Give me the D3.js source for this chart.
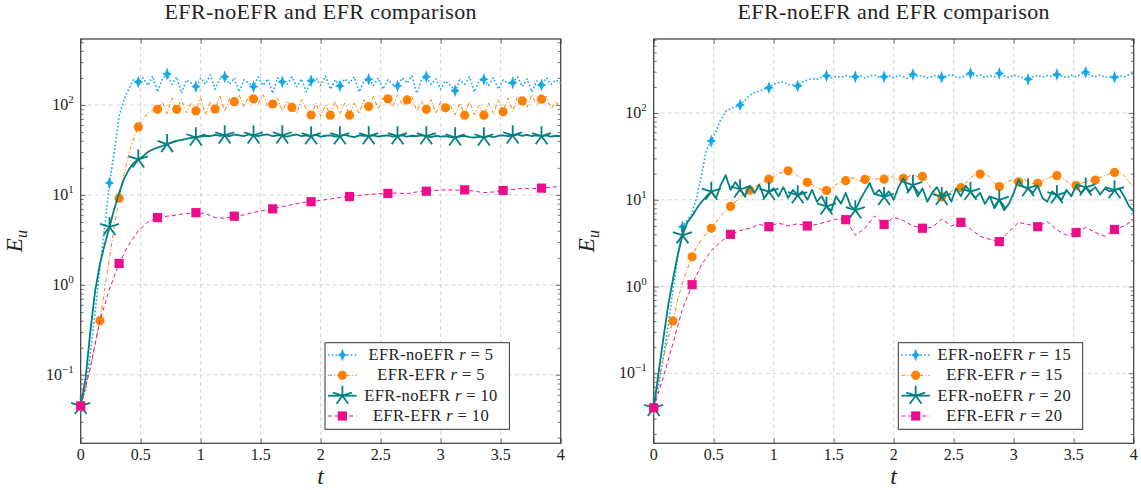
<!DOCTYPE html>
<html>
<head>
<meta charset="utf-8">
<script src="https://cdn.jsdelivr.net/npm/d3@7/dist/d3.min.js"></script>
<style>
  body { margin: 0; background: #fff; }
  text { font-family: "Liberation Serif", "DejaVu Serif", serif; fill: #222; }
</style>
</head>
<body>
<svg id="chart" width="1141" height="490"></svg>
<script>
var titles = ["EFR-noEFR and EFR comparison", "EFR-noEFR and EFR comparison"];
var xTicks = [0, 0.5, 1, 1.5, 2, 2.5, 3, 3.5, 4];
var xTickLabels = ["0", "0.5", "1", "1.5", "2", "2.5", "3", "3.5", "4"];
var yMajors = [0.1, 1, 10, 100];
var yMajorExp = ["\u22121", "0", "1", "2"];
var seriesNames = ["EFR-noEFR", "EFR-EFR", "EFR-noEFR", "EFR-EFR"];
var leftR = [5, 5, 10, 10];
var rightR = [15, 15, 20, 20];

// sampling grids of the saved time steps
var tFine = d3.range(101).map(function (i) { return +(i * 0.04).toFixed(2); });
var tCoarse = d3.range(51).map(function (i) { return +(i * 0.08).toFixed(2); });

// left panel, r = 5 and r = 10
var noEfr5 = [0.045, 0.07, 0.17, 0.5, 1.5, 4.5, 13.6, 30, 75, 114, 150, 190, 180,
  200, 165, 210, 140, 195, 221, 170, 205, 135, 190, 175, 160, 200, 170, 215, 150, 195,
  206, 170, 200, 140, 190, 175, 160, 205, 165, 195, 135, 200, 181, 170, 205, 160, 195,
  140, 186, 200, 165, 210, 150, 190, 163, 195, 175, 205, 140, 185, 193, 165, 200, 150,
  190, 170, 163, 200, 175, 210, 135, 190, 206, 170, 195, 150, 185, 165, 144, 190, 170,
  205, 140, 185, 193, 165, 200, 150, 190, 175, 177, 205, 160, 195, 140, 185, 167, 200,
  170, 190, 175];
var efr5 = [0.045, 0.07, 0.12, 0.22, 0.4, 0.9, 2.0, 4.5, 9.2, 17, 28, 42, 57,
  70, 82, 88, 89.5, 110, 80, 120, 89.5, 115, 82, 105, 86, 120, 78, 110, 90, 125, 85, 118,
  109, 130, 95, 125, 117, 105, 130, 95, 102.6, 120, 85, 110, 94, 80, 115, 90, 77.4, 105,
  75, 100, 77, 110, 80, 105, 77, 105, 80, 115, 96, 125, 90, 120, 117, 95, 130, 100, 114,
  125, 85, 110, 89.5, 115, 80, 110, 93, 100, 78, 105, 77, 110, 78, 100, 77, 105, 80, 115,
  84, 120, 85, 125, 111, 95, 130, 100, 116, 125, 90, 110, 88];
var noEfr10 = [0.045, 0.09, 0.3, 0.85, 1.7, 2.8, 4.4, 7, 10.5, 15, 19, 22.6, 24.8,
  27, 30, 32, 33.5, 35, 36.8, 38.5, 40, 41, 42, 43, 43.7, 44.5, 45.5, 45, 46.5, 45.5,
  46, 45, 47, 46, 45, 47, 46, 45, 46.5, 47, 45, 46, 46, 44.5, 46, 47, 45, 46, 45,
  46.5, 44.5, 45.5, 46, 44.5, 45, 46.5, 45, 44, 46, 45.5, 45, 46, 44.5, 45.5, 46, 44.5,
  45, 46, 44.5, 45.5, 45, 46, 45, 44, 45.5, 44.5, 45, 44, 43.7, 44.5, 45.5, 44, 43.5,
  44.5, 43.7, 45, 44, 45.5, 46, 45, 46, 47, 45.5, 46.5, 45, 46, 45, 46, 44.5, 45.5, 45];
var efr10 = [0.045, 0.12, 0.4, 0.9, 1.73, 2.8, 4.0, 5.0, 5.6, 5.8, 6.0, 6.2, 6.35,
  6.2, 5.6, 5.5, 5.8, 6.0, 6.4, 6.7, 7.0, 7.4, 7.8, 8.2, 8.4, 8.7, 9.0, 9.4, 9.6, 9.9,
  10.1, 10.3, 10.4, 10.5, 10.3, 10.8, 11, 11.2, 11.4, 11.3, 11.4, 11.0, 10.6, 10.8, 11.2,
  11.5, 11.8, 11.7, 11.9, 12.2, 12.4];

// right panel, r = 15 and r = 20
var noEfr15 = [0.04, 0.07, 0.15, 0.35, 0.9, 2.2, 4.9, 5.8, 7.0, 11, 20, 37.5, 47.6,
  62, 85, 105, 112, 118, 124, 140, 160, 172, 178, 190, 196, 215, 225, 228, 215, 210,
  205, 230, 240, 250, 245, 260, 269, 255, 265, 258, 270, 262, 262, 270, 255, 268, 275,
  258, 262, 270, 255, 272, 262, 250, 279, 265, 270, 255, 262, 275, 258, 268, 278, 262,
  255, 272, 287, 265, 275, 258, 270, 262, 287, 268, 258, 275, 262, 255, 245, 262, 272,
  258, 270, 262, 279, 268, 255, 272, 262, 280, 295, 270, 262, 275, 258, 265, 258, 270,
  262, 278, 287];
var efr15 = [0.04, 0.08, 0.15, 0.25, 0.4, 0.7, 1.1, 1.6, 2.2, 2.9, 3.5, 4.1, 4.7,
  5.5, 6.6, 7.5, 8.4, 9.5, 10.8, 11.8, 12.9, 14, 15.2, 16.3, 17.3, 18.5, 20, 21, 21.6,
  21, 19, 17, 15.9, 15, 13.8, 13, 12.8, 13.5, 15, 16, 16.6, 18, 17.5, 16.5, 17.2, 18.5,
  17, 17.8, 17.3, 19, 18, 16.5, 17.7, 18.5, 19.5, 18.5, 18.6, 16, 13, 11.5, 10.8, 11.5,
  12.5, 13.5, 13.8, 15.5, 18, 19.5, 19.8, 20.5, 18, 15.5, 14.2, 15, 16.5, 17, 16.1, 17.5,
  16, 15.5, 15.5, 16.5, 17.8, 18.5, 19.0, 18, 16.5, 15, 14.6, 15.5, 16, 16.5, 16.9, 18,
  19, 20, 20.7, 21.5, 19, 16, 14.2];
var noEfr20 = [0.04, 0.1, 0.25, 0.6, 1.2, 2.3, 3.9, 5.5, 6.5, 8, 9.5, 11, 12.4,
  10.5, 15, 19.3, 13, 16, 13.2, 11, 14.5, 12, 15, 10.5, 12.4, 13.5, 11, 14, 10.5, 13,
  11.3, 12.5, 10, 13, 9.5, 11, 8.4, 7.5, 11, 9, 12, 8.5, 7.6, 10, 12.5, 15.6, 11.5, 13,
  10.8, 12.5, 10, 14, 17.8, 12.5, 14.8, 11, 13.5, 9.5, 12, 14, 10.8, 12.5, 9.5, 13.5,
  11, 14.5, 12.4, 10.5, 12, 9, 11, 8, 10, 7.6, 9, 12, 17, 14, 13.6, 12, 14.5, 10.5, 9.5,
  12.5, 11.3, 10, 13, 11, 14.5, 12, 13.9, 12.5, 14, 11.5, 13.5, 12.5, 12.9, 13.5, 11,
  8.5, 7.3];
var efr20 = [0.04, 0.09, 0.22, 0.55, 1.05, 1.8, 2.6, 3.3, 4.0, 4.4, 4.7, 5.2, 4.9,
  5.4, 5.0, 5.3, 5.0, 5.2, 5.6, 6.0, 5.9, 3.9, 4.7, 6.5, 5.2, 6.3, 5.8, 5.0, 4.7, 4.8,
  6.0, 5.0, 5.5, 4.6, 3.8, 3.5, 3.3, 4.3, 5.5, 5.2, 4.9, 5.6, 4.5, 3.9, 4.2, 4.8, 4.2,
  3.8, 4.55, 5.0, 5.85];

var styles = [
  { color: "#14a9e6", dash: "1.6,2.2", width: 1.6, marker: "cross", every: 6 },
  { color: "#ff8000", dash: "4,2,1,2", width: 1, marker: "circle", every: 4 },
  { color: "#008080", dash: null, width: 1.8, marker: "star", every: 6 },
  { color: "#ec0c8c", dash: "4,3", width: 1, marker: "square", every: 4 }
];

var panels = [
  { left: 80.7, right: 560.7, top: 39, bottom: 443.3, yDomain: [0.0173, 542],
    legendX: 325, labelX: 22, rValues: leftR,
    series: [[tFine, noEfr5], [tFine, efr5], [tFine, noEfr10], [tCoarse, efr10]] },
  { left: 653.7, right: 1133.7, top: 39, bottom: 443.3, yDomain: [0.0156, 714],
    legendX: 898.3, labelX: 594, rValues: rightR,
    series: [[tFine, noEfr15], [tFine, efr15], [tFine, noEfr20], [tCoarse, efr20]] }
];

var svg = d3.select("#chart");

function drawMarker(sel, style, cx, cy) {
  if (style.marker === "cross") {
    sel.append("path")
      .attr("d", "M0,-6.5L1.7,-1.7L4.8,0L1.7,1.7L0,6.5L-1.7,1.7L-4.8,0L-1.7,-1.7Z")
      .attr("transform", "translate(" + cx + "," + cy + ")")
      .attr("fill", style.color);
  } else if (style.marker === "circle") {
    sel.append("circle").attr("cx", cx).attr("cy", cy).attr("r", 4.6)
      .attr("fill", style.color);
  } else if (style.marker === "square") {
    sel.append("rect").attr("x", cx - 4.6).attr("y", cy - 4.6)
      .attr("width", 9.2).attr("height", 9.2).attr("fill", style.color);
  } else {
    var r = 10;
    var d = "";
    for (var k = 0; k < 5; k++) {
      var a = (-90 + k * 72) * Math.PI / 180;
      d += "M" + cx + "," + cy + "L" + (cx + r * Math.cos(a)) + "," + (cy + r * Math.sin(a));
    }
    sel.append("path").attr("d", d).attr("stroke", style.color)
      .attr("stroke-width", 1.8).attr("fill", "none");
  }
}

function drawPanel(p, idx) {
  var x = d3.scaleLinear().domain([0, 4]).range([p.left, p.right]);
  var y = d3.scaleLog().domain(p.yDomain).range([p.bottom, p.top]);
  var g = svg.append("g");

  var minors = [];
  for (var e = -2; e <= 2; e++) {
    for (var k = 2; k <= 9; k++) {
      var v = k * Math.pow(10, e);
      if (v > p.yDomain[0] && v < p.yDomain[1]) minors.push(v);
    }
  }

  // dashed grid
  g.append("g").selectAll("line").data(xTicks.slice(1, -1)).enter().append("line")
    .attr("x1", function (d) { return x(d); }).attr("x2", function (d) { return x(d); })
    .attr("y1", p.top).attr("y2", p.bottom)
    .attr("stroke", "#d6d6d6").attr("stroke-dasharray", "4,3");
  g.append("g").selectAll("line").data(yMajors).enter().append("line")
    .attr("y1", function (d) { return y(d); }).attr("y2", function (d) { return y(d); })
    .attr("x1", p.left).attr("x2", p.right)
    .attr("stroke", "#d6d6d6").attr("stroke-dasharray", "4,3");

  // ticks, pointing inward on all four sides
  var axes = [
    [d3.axisBottom(x).tickValues(xTicks).tickSize(-5), "translate(0," + p.bottom + ")"],
    [d3.axisTop(x).tickValues(xTicks).tickSize(-5), "translate(0," + p.top + ")"],
    [d3.axisLeft(y).tickValues(yMajors).tickSize(-5), "translate(" + p.left + ",0)"],
    [d3.axisLeft(y).tickValues(minors).tickSize(-3), "translate(" + p.left + ",0)"],
    [d3.axisRight(y).tickValues(yMajors).tickSize(-5), "translate(" + p.right + ",0)"],
    [d3.axisRight(y).tickValues(minors).tickSize(-3), "translate(" + p.right + ",0)"]
  ];
  axes.forEach(function (a) {
    var ax = g.append("g").attr("transform", a[1]).call(a[0].tickFormat(""));
    ax.select(".domain").remove();
    ax.selectAll("line").attr("stroke", "#555").attr("stroke-width", 0.8);
  });

  g.append("rect").attr("x", p.left).attr("y", p.top)
    .attr("width", p.right - p.left).attr("height", p.bottom - p.top)
    .attr("fill", "none").attr("stroke", "#3a3a3a").attr("stroke-width", 1.2);

  // tick labels
  g.selectAll(".xl").data(xTicks).enter().append("text")
    .attr("x", function (d) { return x(d); }).attr("y", p.bottom + 17)
    .attr("text-anchor", "middle").attr("font-size", 16)
    .text(function (d, i) { return xTickLabels[i]; });

  yMajors.forEach(function (v, i) {
    var t = g.append("text").attr("x", p.left - 7).attr("y", y(v) + 5)
      .attr("text-anchor", "end").attr("font-size", 16);
    t.append("tspan").text("10");
    t.append("tspan").attr("dy", -7).attr("font-size", 11).text(yMajorExp[i]);
  });

  // titles and axis labels
  g.append("text").attr("x", (p.left + p.right) / 2).attr("y", 19)
    .attr("text-anchor", "middle").attr("font-size", 22).attr("letter-spacing", 0.4)
    .text(titles[idx]);
  g.append("text").attr("x", (p.left + p.right) / 2).attr("y", 484)
    .attr("text-anchor", "middle").attr("font-size", 24).attr("font-style", "italic").text("t");
  var yl = g.append("text")
    .attr("transform", "translate(" + p.labelX + "," + ((p.top + p.bottom) / 2) + ") rotate(-90)")
    .attr("text-anchor", "middle").attr("font-size", 23);
  yl.append("tspan").attr("font-style", "italic").text("E");
  yl.append("tspan").attr("font-style", "italic").attr("font-size", 16).attr("dy", 5).text("u");

  // curves
  var line = d3.line()
    .x(function (d) { return x(d[0]); })
    .y(function (d) { return y(d[1]); });

  p.series.forEach(function (s, si) {
    var st = styles[si];
    var pts = s[0].map(function (t, i) { return [t, s[1][i]]; });
    g.append("path").datum(pts).attr("d", line)
      .attr("fill", "none").attr("stroke", st.color).attr("stroke-width", st.width)
      .attr("stroke-dasharray", st.dash).attr("stroke-linejoin", "round");
    var mk = g.append("g");
    pts.forEach(function (d, i) {
      // no mark on the closing sample
      if (i % st.every === 0 && i < pts.length - 1) drawMarker(mk, st, x(d[0]), y(d[1]));
    });
  });

  // legend
  var lx = p.legendX, ly = 342.7;
  var lg = g.append("g");
  lg.append("rect").attr("x", lx).attr("y", ly).attr("width", 184.4).attr("height", 86.6)
    .attr("fill", "#fff").attr("stroke", "#333").attr("stroke-width", 1);
  var rows = [12.3, 32.6, 53, 73.3];
  styles.forEach(function (st, i) {
    var ry = ly + rows[i];
    lg.append("line").attr("x1", lx + 3).attr("x2", lx + 31.5).attr("y1", ry).attr("y2", ry)
      .attr("stroke", st.color).attr("stroke-width", st.width).attr("stroke-dasharray", st.dash);
    drawMarker(lg, st, lx + 17.4, ry);
    var t = lg.append("text").attr("x", lx + 106).attr("y", ry + 5)
      .attr("text-anchor", "middle").attr("font-size", 16.5).attr("letter-spacing", 0.4);
    t.append("tspan").text(seriesNames[i] + " ");
    t.append("tspan").attr("font-style", "italic").text("r");
    t.append("tspan").text(" = " + p.rValues[i]);
  });
}

panels.forEach(drawPanel);
</script>
</body>
</html>
